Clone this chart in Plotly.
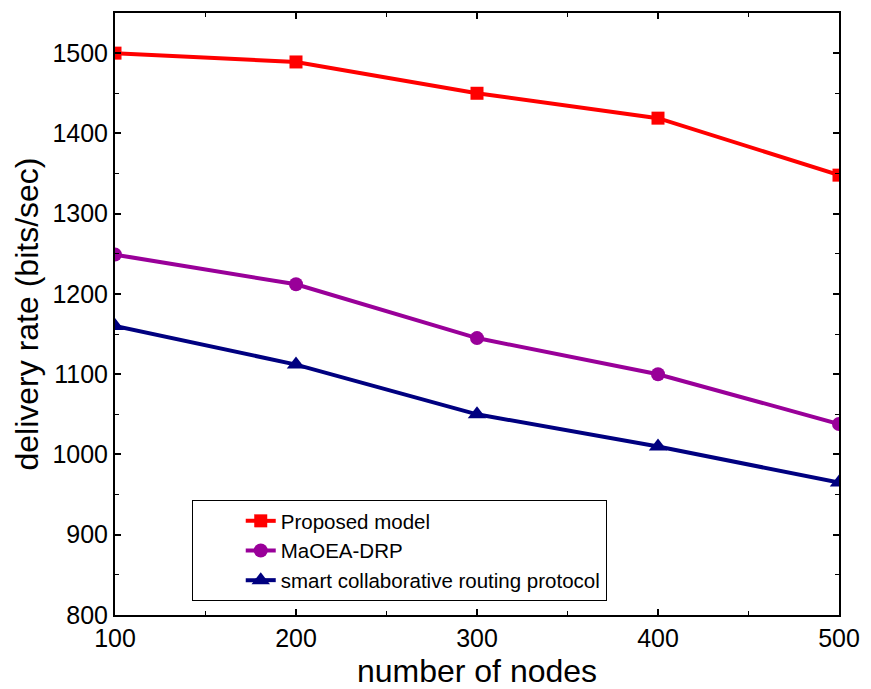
import plotly.graph_objects as go

nodes = [100, 200, 300, 400, 500]
proposed = [1500, 1489, 1450, 1419, 1348]
maoea = [1249, 1212, 1145, 1100, 1038]
smart = [1160, 1112, 1050, 1010, 965]

fig = go.Figure()
fig.add_trace(go.Scatter(x=nodes, y=proposed, name="Proposed model", mode="lines+markers",
                         line=dict(color="#ff0000", width=4),
                         marker=dict(symbol="square", size=13, color="#ff0000")))
fig.add_trace(go.Scatter(x=nodes, y=maoea, name="MaOEA-DRP", mode="lines+markers",
                         line=dict(color="#990099", width=4),
                         marker=dict(symbol="circle", size=14, color="#990099")))
fig.add_trace(go.Scatter(x=nodes, y=smart, name="smart collaborative routing protocol", mode="lines+markers",
                         line=dict(color="#000080", width=4),
                         marker=dict(symbol="triangle-up", size=16, color="#000080")))

FONT = "Liberation Sans, Arial"
axis_common = dict(showline=True, linecolor="black", linewidth=2, mirror="allticks",
                   ticks="inside", ticklen=6, tickwidth=1.5, tickcolor="black",
                   showgrid=False, zeroline=False, automargin=False,
                   tickfont=dict(family=FONT, size=25, color="black"),
                   minor=dict(ticks="inside", ticklen=4, tickwidth=1, tickcolor="black"))

fig.update_xaxes(range=[100, 500], dtick=100, tick0=100,
                 title=dict(text="number of nodes", font=dict(family=FONT, size=32, color="black"), standoff=10),
                 minor_dtick=50, **axis_common)
fig.update_yaxes(range=[800, 1550], dtick=100, tick0=800,
                 title=dict(text="delivery rate (bits/sec)", font=dict(family=FONT, size=32, color="black"), standoff=4),
                 minor_dtick=50, ticklabelstandoff=0, **axis_common)

fig.update_layout(
    width=871, height=689,
    margin=dict(l=115, r=32, t=13, b=74),
    plot_bgcolor="white", paper_bgcolor="white",
    showlegend=True,
    legend=dict(x=0.106, y=0.191, xanchor="left", yanchor="top",
                bordercolor="black", borderwidth=1, bgcolor="white",
                font=dict(family=FONT, size=20.5, color="black"),
                tracegroupgap=0, indentation=48),
)

fig.write_html("out.html")
